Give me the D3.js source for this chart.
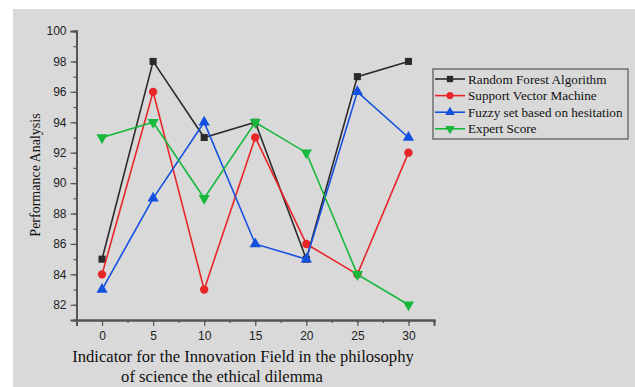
<!DOCTYPE html>
<html lang="en">
<head>
<meta charset="UTF-8">
<script src="https://d3js.org/d3.v7.min.js"></script>
<style>
  body { margin: 0; background: #fff; }
</style>
</head>
<body>
<div id="chart"></div>
<script>
// chart values
let xs = [0, 5, 10, 15, 20, 25, 30];
let seriesNames = ["Random Forest Algorithm", "Support Vector Machine", "Fuzzy set based on hesitation", "Expert Score"];
let randomForest = [85, 98, 93, 94, 85, 97, 98];
let svmScore = [84, 96, 83, 93, 86, 84, 92];
let fuzzySet = [83, 89, 94, 86, 85, 96, 93];
let expertScore = [93, 94, 89, 94, 92, 84, 82];
let yTicks = [82, 84, 86, 88, 90, 92, 94, 96, 98, 100];
let xTicks = [0, 5, 10, 15, 20, 25, 30];

let colors = ["#2b2b2b", "#e8262a", "#1450e0", "#18b83c"];
let shapes = [d3.symbolSquare, d3.symbolCircle, d3.symbolTriangle, d3.symbolTriangle];
let allSeries = [randomForest, svmScore, fuzzySet, expertScore];

let width = 635, height = 387;
let svg = d3.select("#chart").append("svg")
    .attr("width", width).attr("height", height);

// grey panel
svg.append("rect").attr("x", 13).attr("y", 9)
    .attr("width", width - 13).attr("height", height - 9)
    .attr("fill", "#d9d9d9");

let x = d3.scaleLinear().domain([-2.5, 32.5]).range([76.5, 434]);
let y = d3.scaleLinear().domain([81, 100]).range([320, 31]);

let axisColor = "#555";

// y axis with minor ticks
let gy = svg.append("g").attr("transform", "translate(" + x(-2.5) + ",0)");
gy.call(d3.axisLeft(y).tickValues(d3.range(81, 100.5, 1)).tickSize(3).tickFormat(""));
gy.call(g => g.append("g").call(d3.axisLeft(y).tickValues(yTicks).tickSize(6).tickPadding(4)));
gy.selectAll("path.domain").attr("stroke", axisColor).attr("stroke-width", 2);
gy.selectAll("line").attr("stroke", axisColor).attr("stroke-width", 1.2);
gy.selectAll("text").attr("font-family", "Liberation Sans, Arial, sans-serif")
    .attr("font-size", 12).attr("fill", "#222");

// x axis with minor ticks
let gx = svg.append("g").attr("transform", "translate(0," + y(81) + ")");
gx.call(d3.axisBottom(x).tickValues(d3.range(-2.5, 33, 2.5)).tickSize(3).tickFormat(""));
gx.call(g => g.append("g").call(d3.axisBottom(x).tickValues(xTicks).tickSize(6).tickPadding(5)));
gx.selectAll("path.domain").attr("stroke", axisColor).attr("stroke-width", 2);
gx.selectAll("line").attr("stroke", axisColor).attr("stroke-width", 1.2);
gx.selectAll("text").attr("font-family", "Liberation Sans, Arial, sans-serif")
    .attr("font-size", 12).attr("fill", "#222");

// lines and markers
let line = d3.line().x((d, i) => x(xs[i])).y(d => y(d));
allSeries.forEach(function (vals, s) {
    svg.append("path").datum(vals)
        .attr("d", line)
        .attr("fill", "none")
        .attr("stroke", colors[s])
        .attr("stroke-width", 1.6);
    svg.selectAll(".m" + s).data(vals).enter().append("path")
        .attr("class", "m" + s)
        .attr("d", d3.symbol().type(shapes[s]).size(s === 0 ? 50 : 55))
        .attr("transform", function (d, i) {
            return "translate(" + x(xs[i]) + "," + y(d) + ")" + (s === 3 ? " rotate(180)" : "");
        })
        .attr("fill", colors[s]);
});

// legend
let legend = svg.append("g").attr("transform", "translate(433,69)");
legend.append("rect").attr("width", 195).attr("height", 70)
    .attr("fill", "none").attr("stroke", "#555").attr("stroke-width", 1.2);
seriesNames.forEach(function (name, s) {
    let ly = 10 + s * 16.6;
    legend.append("line").attr("x1", 2).attr("x2", 32).attr("y1", ly).attr("y2", ly)
        .attr("stroke", colors[s]).attr("stroke-width", 1.6);
    legend.append("path")
        .attr("d", d3.symbol().type(shapes[s]).size(40))
        .attr("transform", "translate(17," + ly + ")" + (s === 3 ? " rotate(180)" : ""))
        .attr("fill", colors[s]);
    legend.append("text").attr("x", 35).attr("y", ly + 4.5)
        .attr("font-family", "Liberation Serif, Times New Roman, serif")
        .attr("font-size", 13.2).attr("fill", "#111")
        .text(name);
});

// axis titles
svg.append("text")
    .attr("transform", "translate(40,175) rotate(-90)")
    .attr("text-anchor", "middle")
    .attr("font-family", "Liberation Serif, Times New Roman, serif")
    .attr("font-size", 14).attr("fill", "#111")
    .text("Performance Analysis");

let xTitle = svg.append("text")
    .attr("text-anchor", "middle")
    .attr("font-family", "Liberation Serif, Times New Roman, serif")
    .attr("font-size", 16.6).attr("fill", "#111");
xTitle.append("tspan").attr("x", 243).attr("y", 362)
    .text("Indicator for the Innovation Field in the philosophy");
xTitle.append("tspan").attr("x", 222).attr("y", 382)
    .text("of science the ethical dilemma");
</script>
</body>
</html>
